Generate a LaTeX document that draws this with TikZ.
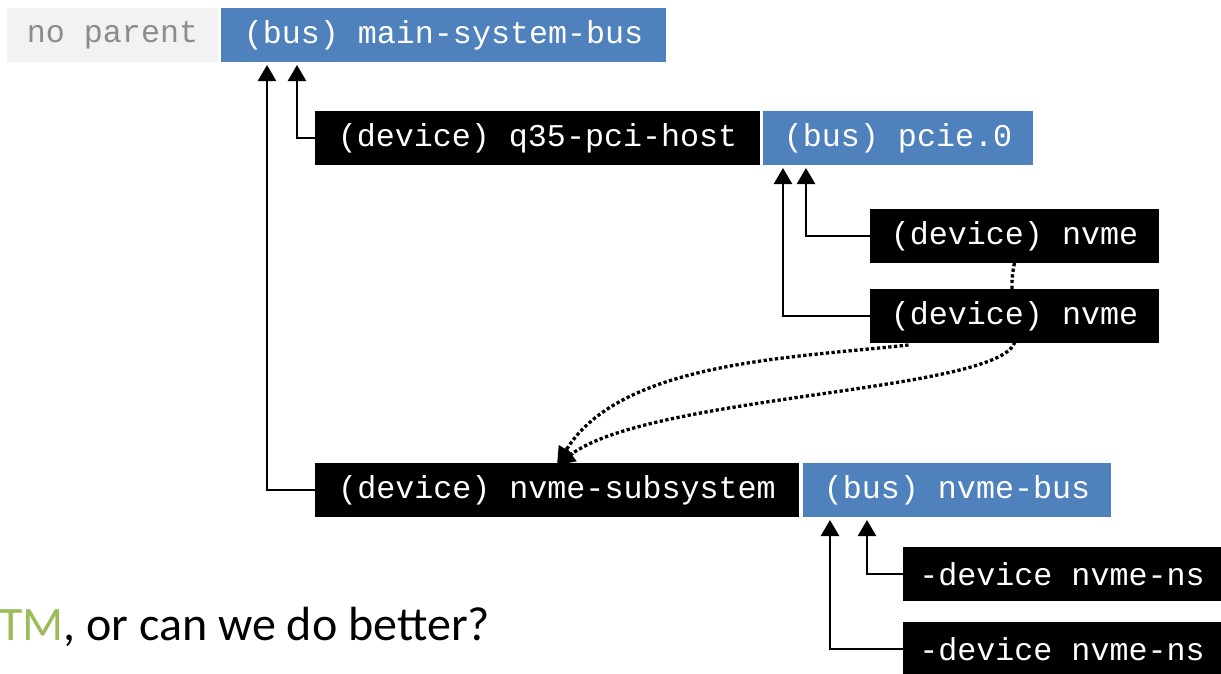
\documentclass[tikz,border=0pt]{standalone}
\usepackage{fontspec}
\setmonofont{Liberation Mono}
\setsansfont{Carlito}
\usetikzlibrary{arrows.meta}
\pgfdeclarelayer{background}
\pgfsetlayers{background,main}
\definecolor{busblue}{HTML}{4F81BD}
\definecolor{noparentgray}{HTML}{F2F2F2}
\definecolor{noparenttext}{HTML}{8C8C8C}
\definecolor{tmgreen}{HTML}{9BBB59}
\begin{document}
\begin{tikzpicture}[x=1pt,y=-1pt,
  box/.style={anchor=north west, minimum height=54pt, inner sep=0pt, outer sep=0pt,
    font=\ttfamily\fontsize{31.7}{36}\selectfont},
  devbox/.style={box, fill=black, text=white},
  busbox/.style={box, fill=busblue, text=white},
  rootbox/.style={box, fill=noparentgray, text=noparenttext},
  parentlink/.style={draw=black, line width=2.6pt, shorten >=3pt,
    -{Triangle[length=16pt,width=18pt]}},
  hiddenlink/.style={draw=black, line width=3.3pt, dash pattern=on 3.3pt off 2.4pt},
  hiddenarrow/.style={hiddenlink, -{Triangle[length=18pt,width=17pt]}}
]
\useasboundingbox (0,0) rectangle (1221,673);

% bus hierarchy
\node[rootbox, minimum width=211pt] (root) at (7,8) {no parent};
\node[busbox, minimum width=445pt] (sysbus) at (221,8) {(bus) main-system-bus};
\node[devbox, minimum width=445pt] (host) at (315,111) {(device) q35-pci-host};
\node[busbox, minimum width=270pt] (pcie) at (763,111) {(bus) pcie.0};
\node[devbox, minimum width=289pt] (nvmeA) at (870,209) {(device) nvme};
\node[devbox, minimum width=289pt] (nvmeB) at (870,289) {(device) nvme};
\node[devbox, minimum width=484pt] (subsys) at (315,463) {(device) nvme-subsystem};
\node[busbox, minimum width=308pt] (nvmebus) at (803,463) {(bus) nvme-bus};
\node[devbox, minimum width=318pt] (nsA) at (903,547) {-device nvme-ns};
\node[devbox, minimum width=318pt] (nsB) at (903,622) {-device nvme-ns};

\node[anchor=base west, inner sep=0pt, font=\sffamily\fontsize{48}{56}\selectfont]
  (caption) at (-1,640) {\textcolor{tmgreen}{TM}, or can we do better?};

% parent links
\draw[parentlink] (subsys.west) -| ([xshift=46pt]sysbus.south west);
\draw[parentlink] (host.west) -| ([xshift=76pt]sysbus.south west);
\draw[parentlink] (nvmeB.west) -| ([xshift=20pt]pcie.south west);
\draw[parentlink] (nvmeA.west) -| ([xshift=43pt]pcie.south west);
\draw[parentlink] (nsB.west) -| ([xshift=27pt]nvmebus.south west);
\draw[parentlink] (nsA.west) -| ([xshift=64pt]nvmebus.south west);

% subsystem links (dotted), passing behind the second controller
\begin{pgfonlayer}{background}
\draw[hiddenarrow] ([xshift=-106pt,yshift=-2pt]nvmeB.south)
  .. controls (790,358) and (620,362) .. ([yshift=-2pt]subsys.north);
\draw[hiddenarrow] (nvmeA.south)
  .. controls (1006,300) and (1022,330) .. (nvmeB.south)
  .. controls (995,392) and (650,395) .. ([yshift=-2pt]subsys.north);
\end{pgfonlayer}
\end{tikzpicture}
\end{document}
